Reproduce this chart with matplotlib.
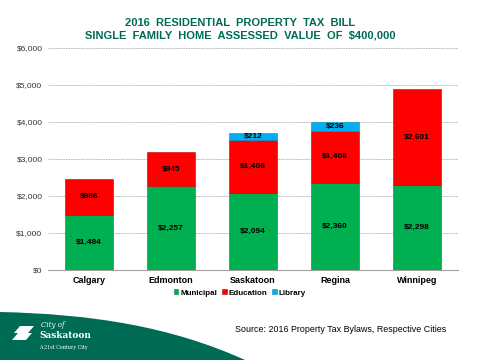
import numpy as np
import matplotlib.pyplot as plt
from matplotlib.patches import Polygon, PathPatch
from matplotlib.path import Path

plt.rcParams['font.family'] = ['Liberation Sans', 'DejaVu Sans']

cities = ['Calgary', 'Edmonton', 'Saskatoon', 'Regina', 'Winnipeg']
municipal = [1484, 2257, 2094, 2360, 2298]
education = [986, 945, 1408, 1408, 2601]
library = [0, 0, 212, 236, 0]
yticks = [0, 1000, 2000, 3000, 4000, 5000, 6000]

green = '#00B050'
red = '#FF0000'
blue = '#00B0F0'
dark = '#006B54'

fig = plt.figure(figsize=(4.8, 3.6), dpi=100)
ax = fig.add_axes([48 / 480, 90 / 360, 410 / 480, 222 / 360])

x = np.arange(len(cities))
w = 0.585
mun = np.array(municipal)
edu = np.array(education)
lib = np.array(library)
has_lib = lib > 0

ax.bar(x, mun, w, color=green, edgecolor='#0a8040', linewidth=0.4, label='Municipal', zorder=3)
ax.bar(x, edu, w, bottom=mun, color=red, edgecolor='#c00000', linewidth=0.4, label='Education', zorder=3)
ax.bar(x[has_lib], lib[has_lib], w, bottom=(mun + edu)[has_lib], color=blue,
       edgecolor='#0090c0', linewidth=0.4, label='Library', zorder=3)

for i in range(len(cities)):
    ax.text(x[i], mun[i] / 2, '${:,}'.format(mun[i]), ha='center', va='center',
            fontsize=6, fontweight='bold', zorder=4)
    ax.text(x[i], mun[i] + edu[i] / 2, '${:,}'.format(edu[i]), ha='center', va='center',
            fontsize=6, fontweight='bold', zorder=4)
    if lib[i] > 0:
        ax.text(x[i], mun[i] + edu[i] + lib[i] / 2, '${:,}'.format(lib[i]), ha='center',
                va='center', fontsize=6, fontweight='bold', zorder=4)

ax.set_xlim(-0.5, len(cities) - 0.5)
ax.set_ylim(0, 6000)
ax.set_yticks(yticks)
ax.set_yticklabels(['${:,}'.format(v) for v in yticks], fontsize=6, color='#333333')
ax.set_xticks(x)
ax.set_xticklabels(cities, fontsize=6.5, fontweight='bold')
ax.tick_params(length=0, pad=4)
ax.yaxis.grid(True, linestyle=(0, (2, 1)), color='#b0b0b0', linewidth=0.6, zorder=0)
for s in ['left', 'right', 'top']:
    ax.spines[s].set_visible(False)
ax.spines['bottom'].set_color('#a0a0a0')
ax.spines['bottom'].set_linewidth(0.8)

leg = fig.legend(loc='center', bbox_to_anchor=(240 / 480, 1 - 293 / 360), ncol=3,
                 frameon=False, fontsize=5.8, handlelength=0.55, handleheight=0.55,
                 handletextpad=0.25, columnspacing=0.6)
for t in leg.get_texts():
    t.set_fontweight('bold')

fig.text(240 / 480, 1 - 23.5 / 360, '2016  RESIDENTIAL  PROPERTY  TAX  BILL', ha='center',
         va='center', fontsize=8, fontweight='bold', color=dark)
fig.text(240 / 480, 1 - 36 / 360, 'SINGLE  FAMILY  HOME  ASSESSED  VALUE  OF  $400,000',
         ha='center', va='center', fontsize=8, fontweight='bold', color=dark)

fig.text(235 / 480, 1 - 329 / 360, 'Source: 2016 Property Tax Bylaws, Respective Cities',
         ha='left', va='center', fontsize=6.4, color='black')

# logo swoosh
verts = [(0, 312), (90, 314), (170, 326), (245, 360), (0, 360), (0, 312)]
codes = [Path.MOVETO, Path.CURVE4, Path.CURVE4, Path.CURVE4, Path.LINETO, Path.CLOSEPOLY]
verts = [(vx / 480, 1 - vy / 360) for vx, vy in verts]
fig.patches.append(PathPatch(Path(verts, codes), facecolor=dark, edgecolor='none',
                             transform=fig.transFigure, figure=fig))
icon = [(14, 333), (20, 326), (34, 326), (28, 333), (32, 333), (26, 340), (12, 340), (18, 333)]
fig.patches.append(Polygon([(ix / 480, 1 - iy / 360) for ix, iy in icon], closed=True,
                           facecolor='white', edgecolor='none', transform=fig.transFigure,
                           figure=fig))
fig.text(41 / 480, 1 - 325 / 360, 'City of', fontsize=5, style='italic', color='white',
         family='DejaVu Serif', va='center')
fig.text(39 / 480, 1 - 336 / 360, 'Saskatoon', fontsize=6.5, fontweight='bold', color='white',
         family='DejaVu Serif', va='center')
fig.text(39 / 480, 1 - 348 / 360, 'A 21st Century City', fontsize=3.5, color='white',
         family='DejaVu Serif', va='center')

fig.savefig('out.png', dpi=100)
